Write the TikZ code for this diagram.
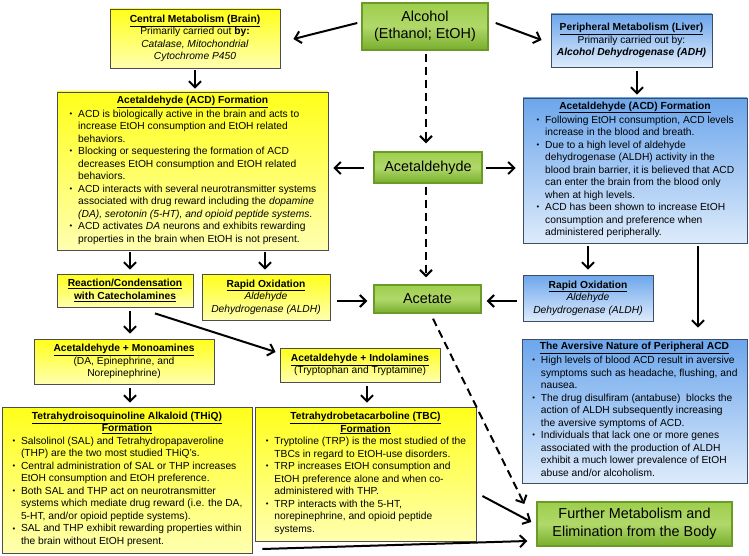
\documentclass[tikz,border=0pt]{standalone}
\usepackage{fontspec}
\setmainfont{Liberation Sans}
\usetikzlibrary{arrows.meta,calc}
\definecolor{ygray}{HTML}{4D4D4D}
\definecolor{ytop}{HTML}{FFFF1A}
\definecolor{ybot}{HTML}{FFFFB0}
\definecolor{btop}{HTML}{6CA6EC}
\definecolor{bbot}{HTML}{DDEBFB}
\definecolor{bline}{HTML}{3E4E62}
\definecolor{gtop}{HTML}{9ECE4C}
\definecolor{gmid}{HTML}{B0D86A}
\definecolor{gbot}{HTML}{78AE2C}
\definecolor{gline}{HTML}{6A9A28}
\newcommand\fs{\fontsize{10.25}{12.5}\selectfont}
\newcommand\fbig{\fontsize{14.4}{17.5}\selectfont}
\newcommand\bu{\makebox[9.5pt][l]{\hspace{1pt}\raisebox{0.15ex}{\scalebox{0.75}{\textbullet}}}}
\newcommand\ttl[1]{\underline{\textbf{#1}}}
\tikzset{
  box/.style={draw, line width=0.8pt, inner sep=0pt, align=center, font=\fs},
  ybox/.style={box, draw=ygray, top color=ytop, bottom color=ybot},
  bbox/.style={box, draw=bline, top color=btop, bottom color=bbot},
  gbox/.style={box, draw=gline, line width=1.4pt, top color=gtop, bottom color=gbot, middle color=gmid, font=\fbig},
  arr/.style={line width=2pt, -{Straight Barb[length=6pt,width=12pt]}},
  darr/.style={arr, dash pattern=on 8pt off 5pt}
}
\begin{document}
\begin{tikzpicture}[x=1pt,y=-1pt]
\fill[white] (0,0) rectangle (749,556);
\useasboundingbox (0,0) rectangle (749,556);

\node[gbox, minimum width=126pt, minimum height=47pt] (alc) at (425,26.5) {Alcohol\\(Ethanol; EtOH)};

\node[ybox, minimum width=170pt, minimum height=59pt] (cen) at (195,38.5)
 {\ttl{Central Metabolism (Brain)}\\Primarily carried out \textbf{by:}\\\textit{Catalase, Mitochondrial}\\\textit{Cytochrome P450}};

\node[bbox, minimum width=161pt, minimum height=53pt] (per) at (631.5,40.5)
 {\ttl{Peripheral Metabolism (Liver)}\\Primarily carried out by:\\\textbf{\textit{Alcohol Dehydrogenase (ADH)}}};

\node[ybox, minimum width=271pt, minimum height=158pt] (acdL) at (192.5,171)
 {\ttl{Acetaldehyde (ACD) Formation}\\
 \begin{tabular}[t]{@{}l@{}l@{}}
 \bu & ACD is biologically active in the brain and acts to\\
  & increase EtOH consumption and EtOH related\\
  & behaviors.\\
 \bu & Blocking or sequestering the formation of ACD\\
  & decreases EtOH consumption and EtOH related\\
  & behaviors.\\
 \bu & ACD interacts with several neurotransmitter systems\\
  & associated with drug reward including the \textit{dopamine}\\
  & \textit{(DA), serotonin (5-HT), and opioid peptide systems}.\\
 \bu & ACD activates \textit{DA} neurons and exhibits rewarding\\
  & properties in the brain when EtOH is not present.
 \end{tabular}};

\node[bbox, minimum width=224pt, minimum height=145pt] (acdR) at (635,170.5)
 {\ttl{Acetaldehyde (ACD) Formation}\\
 \begin{tabular}[t]{@{}l@{}l@{}}
 \bu & Following EtOH consumption, ACD levels\\
  & increase in the blood and breath.\\
 \bu & Due to a high level of aldehyde\\
  & dehydrogenase (ALDH) activity in the\\
  & blood brain barrier, it is believed that ACD\\
  & can enter the brain from the blood only\\
  & when at high levels.\\
 \bu & ACD has been shown to increase EtOH\\
  & consumption and preference when\\
  & administered peripherally.
 \end{tabular}};

\node[gbox, minimum width=108pt, minimum height=31pt] (acet) at (428,167.5) {Acetaldehyde};

\node[ybox, minimum width=136pt, minimum height=33pt] (react) at (125,290.5)
 {\ttl{Reaction/Condensation}\\\ttl{with Catecholamines}};

\node[ybox, minimum width=128pt, minimum height=46pt] (roxL) at (266,297)
 {\ttl{Rapid Oxidation}\\\textit{Aldehyde}\\\textit{Dehydrogenase (ALDH)}};

\node[gbox, minimum width=107pt, minimum height=28pt] (acetate) at (427.5,299) {Acetate};

\node[bbox, minimum width=130pt, minimum height=46pt] (roxR) at (588,298)
 {\ttl{Rapid Oxidation}\\\textit{Aldehyde}\\\textit{Dehydrogenase (ALDH)}};

\node[bbox, minimum width=225pt, minimum height=144pt] (aver) at (634.5,411)
 {\ttl{The Aversive Nature of Peripheral ACD}\\
 \begin{tabular}[t]{@{}l@{}l@{}}
 \bu & High levels of blood ACD result in aversive\\
  & symptoms such as headache, flushing, and\\
  & nausea.\\
 \bu & The drug disulfiram (antabuse)\ \ blocks the\\
  & action of ALDH subsequently increasing\\
  & the aversive symptoms of ACD.\\
 \bu & Individuals that lack one or more genes\\
  & associated with the production of ALDH\\
  & exhibit a much lower prevalence of EtOH\\
  & abuse and/or alcoholism.
 \end{tabular}};

\node[ybox, minimum width=180pt, minimum height=45pt] (mono) at (124,361.5)
 {\ttl{Acetaldehyde + Monoamines}\\(DA, Epinephrine, and\\Norepinephrine)};

\node[ybox, minimum width=160pt, minimum height=34pt] (indo) at (360,365)
 {\ttl{Acetaldehyde + Indolamines}\\(Tryptophan and Tryptamine)};

\node[ybox, minimum width=250pt, minimum height=146pt] (thiq) at (127,480)
 {\ttl{Tetrahydroisoquinoline Alkaloid (THiQ)}\\\ttl{Formation}\\
 \begin{tabular}[t]{@{}l@{}l@{}}
 \bu & Salsolinol (SAL) and Tetrahydropapaveroline\\
  & (THP) are the two most studied THiQ's.\\
 \bu & Central administration of SAL or THP increases\\
  & EtOH consumption and EtOH preference.\\
 \bu & Both SAL and THP act on neurotransmitter\\
  & systems which mediate drug reward (i.e. the DA,\\
  & 5-HT, and/or opioid peptide systems).\\
 \bu & SAL and THP exhibit rewarding properties within\\
  & the brain without EtOH present.
 \end{tabular}};

\node[ybox, minimum width=221pt, minimum height=134pt] (tbc) at (365.5,474)
 {\ttl{Tetrahydrobetacarboline (TBC)}\\\ttl{Formation}\\
 \begin{tabular}[t]{@{}l@{}l@{}}
 \bu & Tryptoline (TRP) is the most studied of the\\
  & TBCs in regard to EtOH-use disorders.\\
 \bu & TRP increases EtOH consumption and\\
  & EtOH preference alone and when co-\\
  & administered with THP.\\
 \bu & TRP interacts with the 5-HT,\\
  & norepinephrine, and opioid peptide\\
  & systems.
 \end{tabular}};

\node[gbox, minimum width=195pt, minimum height=44pt] (fur) at (634.5,524)
 {Further Metabolism and\\Elimination from the Body};

% connectors
\draw[arr] ($(alc.west)+(-4,-3.5)$) -- ($(cen.east)+(13,0.5)$);
\draw[arr] ($(alc.east)+(7,-3.5)$) -- ($(per.west)+(-9,-0.5)$);
\draw[arr] ($(cen.south)+(0,2)$) -- ($(acdL.north)+(2.5,-3)$);
\draw[arr] ($(per.south)+(5.5,4)$) -- ($(acdR.north)+(2,-3)$);
\draw[arr] ($(acet.west)+(-9,0.5)$) -- ($(acdL.east)+(5,-3)$);
\draw[arr] ($(acet.east)+(3,0.5)$) -- ($(acdR.west)+(-7,-2.5)$);
\draw[darr] ($(alc.south)+(1,3)$) -- ($(acet.north)+(-2,-8)$);
\draw[darr] ($(acet.south)+(-2,3)$) -- ($(acetate.north)+(-1.5,-7)$);
\draw[arr] ($(acdL.south)+(-62.5,2)$) -- ($(react.north)+(5,-4)$);
\draw[arr] ($(acdL.south)+(72.5,2)$) -- ($(roxL.north)+(-1,-4)$);
\draw[arr] ($(roxL.east)+(7,4)$) -- ($(acetate.west)+(-6,2)$);
\draw[arr] ($(roxR.west)+(-6,3)$) -- ($(acetate.east)+(5,2)$);
\draw[arr] ($(acdR.south)+(-47,3)$) -- ($(roxR.north)+(0,-5)$);
\draw[arr] ($(acdR.south)+(63,3)$) -- ($(aver.north)+(63.5,-11)$);
\draw[arr] ($(react.south)+(5,4)$) -- ($(mono.north)+(6,-5)$);
\draw[arr] ($(react.south)+(30,6)$) -- ($(indo.west)+(-4,-13)$);
\draw[arr] ($(mono.south)+(6,4)$) -- ($(thiq.north)+(3,-4)$);
\draw[arr] ($(indo.south)+(7,4)$) -- ($(tbc.north)+(1.5,-4)$);
\draw[darr] ($(acetate.south)+(5.5,5)$) -- ($(fur.west)+(-12,-20)$);
\draw[arr] ($(tbc.east)+(6,22)$) -- ($(fur.west)+(-5,-2)$);
\draw[arr] ($(thiq.east)+(10,69)$) -- ($(fur.west)+(-9,17)$);
\end{tikzpicture}
\end{document}
